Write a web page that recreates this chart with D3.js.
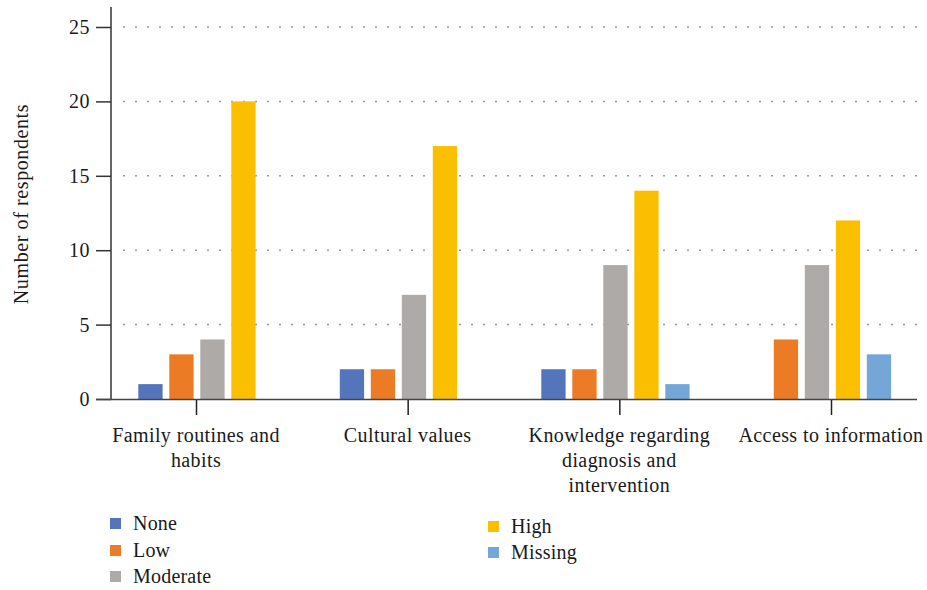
<!DOCTYPE html>
<html><head><meta charset="utf-8">
<script src="https://cdn.jsdelivr.net/npm/d3@7"></script>
<style>body{margin:0;background:#fff;} svg{display:block;} text{font-family:"Liberation Serif","DejaVu Serif",serif;fill:#1a1a1a;}</style>
</head><body>
<svg id="c" width="927" height="590"></svg>
<script>
const categories = [["Family routines and","habits"],["Cultural values"],["Knowledge regarding","diagnosis and","intervention"],["Access to information"]];
const seriesNames = ["None","Low","Moderate","High","Missing"];
const noneVals = [1,2,2,null];
const lowVals = [3,2,2,4];
const moderateVals = [4,7,9,9];
const highVals = [20,17,14,12];
const missingVals = [null,null,1,3];
const yTicks = [0,5,10,15,20,25];
const colors = ["#5474BC","#EC7B25","#ADAAA8","#FAC000","#74A6D7"];

const seriesVals = [noneVals,lowVals,moderateVals,highVals,missingVals];
const svg = d3.select("#c");
const y = d3.scaleLinear().domain([0,25]).range([399,27]);
const catIdx = categories.map((c,i)=>i);
const xTick = d3.scalePoint().domain(catIdx).range([196,831]);

// sequential slot layout of present bars with gap between groups
const bars = [];
let slot = 0;
catIdx.forEach((ci)=>{
  if(ci>0) slot += 3.5;
  let first = true;
  seriesVals.forEach((vals,si)=>{
    const v = vals[ci];
    if(v==null) return;
    if(!first) slot += 1;
    first = false;
    bars.push({ci,si,v,slot});
  });
});
const xSlot = d3.scaleLinear().domain([0,1]).range([138.3,169.3]);
const barW = 24.3;

// gridlines
svg.append("g").selectAll("line").data(yTicks.filter(d=>d>0)).join("line")
  .attr("x1",123).attr("x2",917).attr("y1",d=>y(d)).attr("y2",d=>y(d))
  .attr("stroke","#999").attr("stroke-width",1.5).attr("stroke-dasharray","2,10");

// bars
svg.append("g").selectAll("rect").data(bars).join("rect")
  .attr("x",d=>xSlot(d.slot)).attr("width",barW)
  .attr("y",d=>y(d.v)).attr("height",d=>y(0)-y(d.v))
  .attr("fill",d=>colors[d.si]);

// y axis
const yAxis = svg.append("g").attr("transform","translate(111,0)")
  .call(d3.axisLeft(y).tickValues(yTicks).tickSize(15).tickPadding(6));
yAxis.select(".domain").remove();
yAxis.selectAll(".tick line").attr("stroke","#333").attr("stroke-width",1.5);
yAxis.selectAll(".tick text").attr("font-size",20).attr("font-family","Liberation Serif").attr("fill","#1a1a1a").attr("letter-spacing",0.5);
svg.append("line").attr("x1",111).attr("x2",111).attr("y1",7).attr("y2",399).attr("stroke","#333").attr("stroke-width",1.5);

// x baseline and ticks
svg.append("line").attr("x1",96).attr("x2",917).attr("y1",399.5).attr("y2",399.5).attr("stroke","#444").attr("stroke-width",1.5);
const xAxis = svg.append("g").attr("transform","translate(0,400)")
  .call(d3.axisBottom(xTick).tickSize(15).tickFormat(""));
xAxis.select(".domain").remove();
xAxis.selectAll(".tick line").attr("stroke","#222").attr("stroke-width",1.5);

// category labels
svg.append("g").selectAll("text").data(catIdx).join("text")
  .attr("x",d=>xTick(d)).attr("y",442).attr("text-anchor","middle").attr("font-size",20).attr("letter-spacing",0.4)
  .each(function(d){
    d3.select(this).selectAll("tspan").data(categories[d]).join("tspan")
      .attr("x",xTick(d)).attr("dy",(t,i)=>i===0?0:25).text(t=>t);
  });

// y title
svg.append("text").attr("transform","translate(28,204) rotate(-90)").attr("text-anchor","middle")
  .attr("font-size",20).attr("letter-spacing",0.6).text("Number of respondents");

// legend
const legPos = [[110,518],[110,545],[110,571],[488,521],[488,547]];
const leg = svg.append("g").selectAll("g").data(seriesNames).join("g")
  .attr("transform",(d,i)=>`translate(${legPos[i][0]},${legPos[i][1]})`);
leg.append("rect").attr("width",11).attr("height",11).attr("fill",(d,i)=>colors[i]);
leg.append("text").attr("x",23).attr("y",12).attr("font-size",20).attr("letter-spacing",0.2).text(d=>d);
</script>
</body></html>
